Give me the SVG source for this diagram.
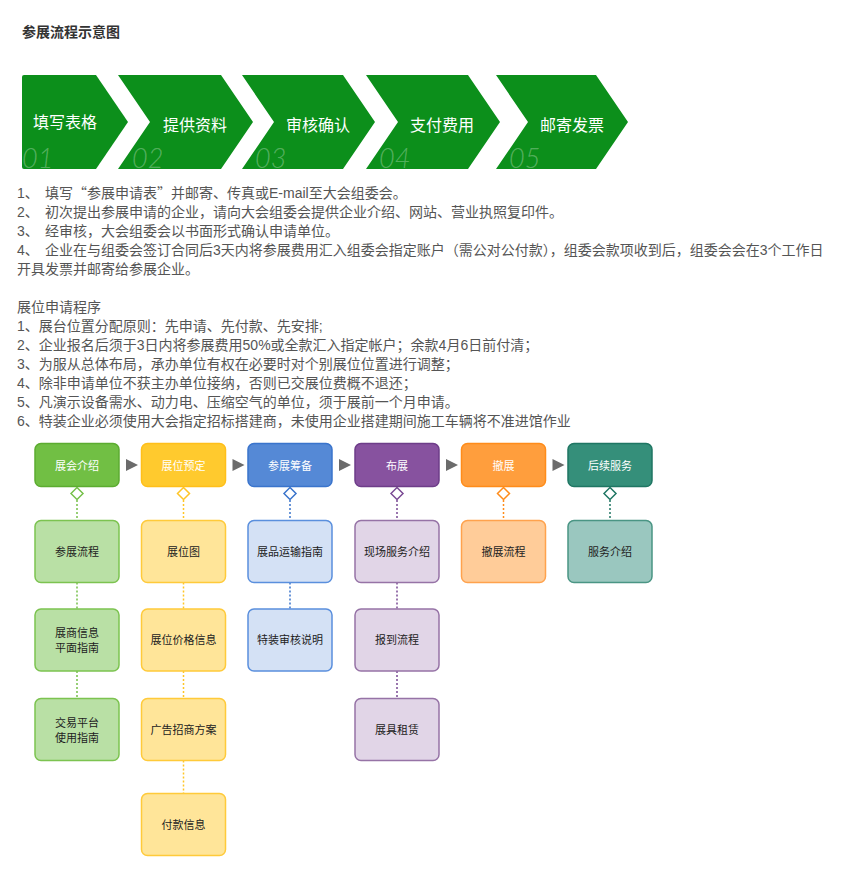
<svg xmlns="http://www.w3.org/2000/svg" width="857" height="889" viewBox="0 0 857 889">
<style>
.t{font-family:"Liberation Sans","Noto Sans CJK SC",sans-serif;font-size:14px;fill:#555}
.cj{font-family:"Noto Sans CJK SC",sans-serif}
.title{font-family:"Liberation Sans","Noto Sans CJK SC",sans-serif;font-size:14px;font-weight:bold;fill:#333}
.chev{fill:#0c8f1b}
.cl{font-family:"Noto Sans CJK SC",sans-serif;font-size:16px;fill:#fff;text-anchor:middle}
.num{font-family:"Lato","Open Sans",sans-serif;font-size:27px;font-style:italic;font-weight:300;fill:#fff;fill-opacity:0.3}
.hd{font-family:"Noto Sans CJK SC",sans-serif;font-size:11px;fill:#fff;text-anchor:middle}
.cd{font-family:"Noto Sans CJK SC",sans-serif;font-size:11px;fill:#222;text-anchor:middle}
.box{stroke-width:1.5}
.tri{fill:#6b6b6b}
.dot{fill:none;stroke-width:1.5;stroke-dasharray:2 2}
.dia{fill:#fff;stroke-width:1.5}
</style>
<rect width="857" height="889" fill="#fff"/>
<text class="title" x="22" y="37">参展流程示意图</text>

<g id="steps">
<g id="step1"><path class="chev" d="M24,75 L96,75 L128,122 L96,169 L24,169 Q22,169 22,167 L22,77 Q22,75 24,75 Z"/><text class="cl" x="65" y="128">填写表格</text><text class="num" x="22" y="168">01</text></g>
<g id="step2"><path class="chev" d="M118,75 L221,75 L253,122 L221,169 L118,169 L150,122 Z"/><text class="cl" x="195" y="131">提供资料</text><text class="num" x="132" y="168">02</text></g>
<g id="step3"><path class="chev" d="M242,75 L343,75 L375,122 L343,169 L242,169 L274,122 Z"/><text class="cl" x="318" y="131">审核确认</text><text class="num" x="255" y="168">03</text></g>
<g id="step4"><path class="chev" d="M366,75 L468,75 L500,122 L468,169 L366,169 L398,122 Z"/><text class="cl" x="442" y="131">支付费用</text><text class="num" x="379" y="168">04</text></g>
<g id="step5"><path class="chev" d="M496,75 L596,75 L628,122 L596,169 L496,169 L528,122 Z"/><text class="cl" x="572" y="131">邮寄发票</text><text class="num" x="509" y="168">05</text></g>
</g>

<g id="notes1">
<text class="t" x="17" y="198">1、</text><text class="t" x="45" y="198">填写<tspan class="cj">“</tspan>参展申请表<tspan class="cj">”</tspan>并邮寄、传真或E-mail至大会组委会。</text>
<text class="t" x="17" y="217">2、</text><text class="t" x="45" y="217">初次提出参展申请的企业，请向大会组委会提供企业介绍、网站、营业执照复印件。</text>
<text class="t" x="17" y="236">3、</text><text class="t" x="45" y="236">经审核，大会组委会以书面形式确认申请单位。</text>
<text class="t" x="17" y="255">4、</text><text class="t" x="45" y="255">企业在与组委会签订合同后3天内将参展费用汇入组委会指定账户（需公对公付款），组委会款项收到后，组委会会在3个工作日</text>
<text class="t" x="17" y="274">开具发票并邮寄给参展企业。</text>
</g>

<g id="notes2">
<text class="t" x="17" y="312">展位申请程序</text>
<text class="t" x="17" y="331">1、展台位置分配原则：先申请、先付款、先安排;</text>
<text class="t" x="17" y="350">2、企业报名后须于3日内将参展费用50%或全款汇入指定帐户；余款4月6日前付清；</text>
<text class="t" x="17" y="369">3、为服从总体布局，承办单位有权在必要时对个别展位位置进行调整；</text>
<text class="t" x="17" y="388">4、除非申请单位不获主办单位接纳，否则已交展位费概不退还；</text>
<text class="t" x="17" y="407">5、凡演示设备需水、动力电、压缩空气的单位，须于展前一个月申请。</text>
<text class="t" x="17" y="426">6、特装企业必须使用大会指定招标搭建商，未使用企业搭建期间施工车辆将不准进馆作业</text>
</g>

<g id="connectors">
<polygon class="tri" points="126,459 138,465 126,471"/>
<polygon class="tri" points="232.5,459 244.5,465 232.5,471"/>
<polygon class="tri" points="339,459 351,465 339,471"/>
<polygon class="tri" points="446,459 458,465 446,471"/>
<polygon class="tri" points="552.5,459 564.5,465 552.5,471"/>

<g stroke="#76c04a">
<polygon class="dia" points="77,487.5 83,493.5 77,499.5 71,493.5"/>
<line class="dot" x1="77" y1="500" x2="77" y2="520.5"/>
<line class="dot" x1="77" y1="582.5" x2="77" y2="609"/>
<line class="dot" x1="77" y1="671" x2="77" y2="698.5"/>
</g>
<g stroke="#ffc526">
<polygon class="dia" points="183.5,487.5 189.5,493.5 183.5,499.5 177.5,493.5"/>
<line class="dot" x1="183.5" y1="500" x2="183.5" y2="520.5"/>
<line class="dot" x1="183.5" y1="582.5" x2="183.5" y2="609"/>
<line class="dot" x1="183.5" y1="671" x2="183.5" y2="698.5"/>
<line class="dot" x1="183.5" y1="760.5" x2="183.5" y2="793.5"/>
</g>
<g stroke="#3a74cc">
<polygon class="dia" points="290,487.5 296,493.5 290,499.5 284,493.5"/>
<line class="dot" x1="290" y1="500" x2="290" y2="520.5"/>
<line class="dot" x1="290" y1="582.5" x2="290" y2="609"/>
</g>
<g stroke="#7a4a94">
<polygon class="dia" points="397,487.5 403,493.5 397,499.5 391,493.5"/>
<line class="dot" x1="397" y1="500" x2="397" y2="520.5"/>
<line class="dot" x1="397" y1="582.5" x2="397" y2="609"/>
<line class="dot" x1="397" y1="671" x2="397" y2="698.5"/>
</g>
<g stroke="#ff8c1a">
<polygon class="dia" points="503.5,487.5 509.5,493.5 503.5,499.5 497.5,493.5"/>
<line class="dot" x1="503.5" y1="500" x2="503.5" y2="520.5"/>
</g>
<g stroke="#1f7663">
<polygon class="dia" points="610,487.5 616,493.5 610,499.5 604,493.5"/>
<line class="dot" x1="610" y1="500" x2="610" y2="520.5"/>
</g>
</g>

<g id="col-green">
<g id="h1"><rect class="box" x="35" y="443.5" width="84" height="43" rx="6" fill="#71bf44" stroke="#5cac30"/><text class="hd" x="77" y="469.5">展会介绍</text></g>
<g id="g1"><rect class="box" x="35" y="520.5" width="84" height="62" rx="6" fill="#b9e0a5" stroke="#7cc350"/><text class="cd" x="77" y="555.5">参展流程</text></g>
<g id="g2"><rect class="box" x="35" y="609" width="84" height="62" rx="6" fill="#b9e0a5" stroke="#7cc350"/><text class="cd" x="77" y="637">展商信息</text><text class="cd" x="77" y="652">平面指南</text></g>
<g id="g3"><rect class="box" x="35" y="698.5" width="84" height="62" rx="6" fill="#b9e0a5" stroke="#7cc350"/><text class="cd" x="77" y="726.5">交易平台</text><text class="cd" x="77" y="741.5">使用指南</text></g>
</g>

<g id="col-yellow">
<g id="h2"><rect class="box" x="141.5" y="443.5" width="84" height="43" rx="6" fill="#ffca2e" stroke="#ffbf1a"/><text class="hd" x="183.5" y="469.5">展位预定</text></g>
<g id="y1"><rect class="box" x="141.5" y="520.5" width="84" height="62" rx="6" fill="#ffe599" stroke="#ffca3a"/><text class="cd" x="183.5" y="555.5">展位图</text></g>
<g id="y2"><rect class="box" x="141.5" y="609" width="84" height="62" rx="6" fill="#ffe599" stroke="#ffca3a"/><text class="cd" x="183.5" y="644">展位价格信息</text></g>
<g id="y3"><rect class="box" x="141.5" y="698.5" width="84" height="62" rx="6" fill="#ffe599" stroke="#ffca3a"/><text class="cd" x="183.5" y="733.5">广告招商方案</text></g>
<g id="y4"><rect class="box" x="141.5" y="793.5" width="84" height="62" rx="6" fill="#ffe599" stroke="#ffca3a"/><text class="cd" x="183.5" y="828.5">付款信息</text></g>
</g>

<g id="col-blue">
<g id="h3"><rect class="box" x="248" y="443.5" width="84" height="43" rx="6" fill="#5589d6" stroke="#3a74cc"/><text class="hd" x="290" y="469.5">参展筹备</text></g>
<g id="b1"><rect class="box" x="248" y="520.5" width="84" height="62" rx="6" fill="#d4e1f5" stroke="#5a8fdd"/><text class="cd" x="290" y="555.5">展品运输指南</text></g>
<g id="b2"><rect class="box" x="248" y="609" width="84" height="62" rx="6" fill="#d4e1f5" stroke="#5a8fdd"/><text class="cd" x="290" y="644">特装审核说明</text></g>
</g>

<g id="col-purple">
<g id="h4"><rect class="box" x="355" y="443.5" width="84" height="43" rx="6" fill="#87529f" stroke="#6e3d89"/><text class="hd" x="397" y="469.5">布展</text></g>
<g id="p1"><rect class="box" x="355" y="520.5" width="84" height="62" rx="6" fill="#e1d5e7" stroke="#9673a6"/><text class="cd" x="397" y="555.5">现场服务介绍</text></g>
<g id="p2"><rect class="box" x="355" y="609" width="84" height="62" rx="6" fill="#e1d5e7" stroke="#9673a6"/><text class="cd" x="397" y="644">报到流程</text></g>
<g id="p3"><rect class="box" x="355" y="698.5" width="84" height="62" rx="6" fill="#e1d5e7" stroke="#9673a6"/><text class="cd" x="397" y="733.5">展具租赁</text></g>
</g>

<g id="col-orange">
<g id="h5"><rect class="box" x="461.5" y="443.5" width="84" height="43" rx="6" fill="#ff9e3d" stroke="#ff8c1a"/><text class="hd" x="503.5" y="469.5">撤展</text></g>
<g id="o1"><rect class="box" x="461.5" y="520.5" width="84" height="62" rx="6" fill="#ffcc99" stroke="#ffa24d"/><text class="cd" x="503.5" y="555.5">撤展流程</text></g>
</g>

<g id="col-teal">
<g id="h6"><rect class="box" x="568" y="443.5" width="84" height="43" rx="6" fill="#358f7a" stroke="#1f7663"/><text class="hd" x="610" y="469.5">后续服务</text></g>
<g id="t1"><rect class="box" x="568" y="520.5" width="84" height="62" rx="6" fill="#9ac7bf" stroke="#4a9584"/><text class="cd" x="610" y="555.5">服务介绍</text></g>
</g>
</svg>
